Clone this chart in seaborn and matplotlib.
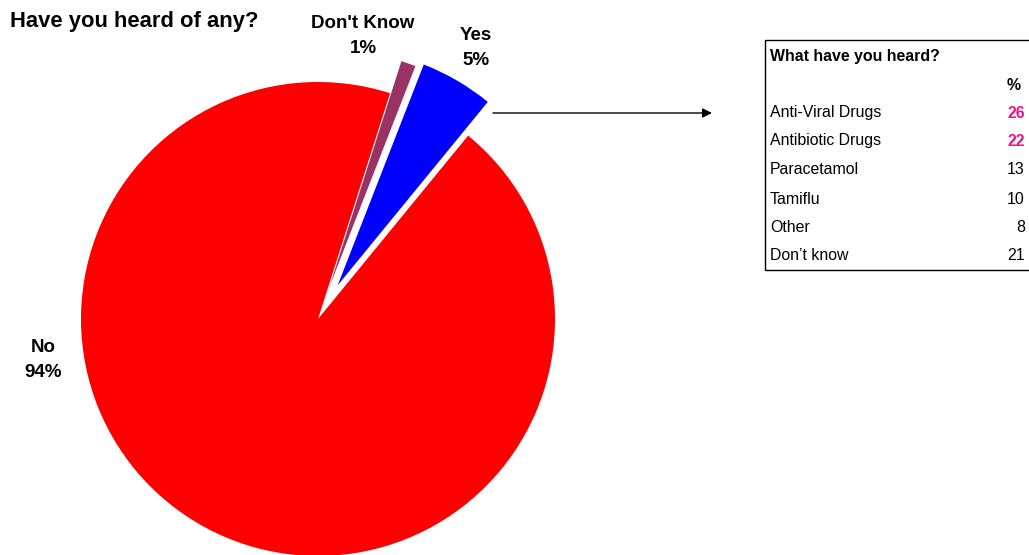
import matplotlib
matplotlib.use("Agg")
import matplotlib.pyplot as plt
from matplotlib.patches import Rectangle
import seaborn as sns

# Pie data (drawn in this order, counter-clockwise)
pie_labels = ["No", "Yes", "Don't Know"]
pie_values = [94, 5, 1]
pie_colors = ["#FF0000", "#0000FF", "#993366"]
# explode offsets in axis units (pixels here)
pie_explode = [0.0, 39.0, 34.0]

# Follow-up table
table_title = "What have you heard?"
table_items = ["Anti-Viral Drugs", "Antibiotic Drugs", "Paracetamol", "Tamiflu", "Other", "Don\u2019t know"]
table_values = [26, 22, 13, 10, 8, 21]
table_highlight = [True, True, False, False, False, False]

sns.set_theme(style="white")
plt.rcParams["font.family"] = ["Liberation Sans", "DejaVu Sans"]

W, H = 1029, 555
fig = plt.figure(figsize=(W / 100, H / 100), dpi=100)
ax = fig.add_axes([0, 0, 1, 1])
ax.set_xlim(0, W)
ax.set_ylim(0, H)
ax.set_aspect("equal")
ax.axis("off")


def Y(y):
    # convert top-down pixel position to axis coordinate
    return H - y


wedges, _ = ax.pie(pie_values, colors=pie_colors, explode=pie_explode,
                   startangle=72.3, counterclock=True, center=(318, Y(319)),
                   radius=237, frame=True,
                   wedgeprops=dict(linewidth=0))
ax.set_xlim(0, W)
ax.set_ylim(0, H)
ax.axis("off")

# Slice labels
lab_style = dict(fontsize=13.5, fontweight="bold", ha="center", va="center",
                 linespacing=1.55, color="#000000")
label_pos = {"No": (43, 360), "Yes": (476, 48), "Don't Know": (363, 36)}
for name, val in zip(pie_labels, pie_values):
    x, y = label_pos[name]
    ax.text(x, Y(y), f"{name}\n{val}%", **lab_style)

# Title
ax.text(10, Y(21), "Have you heard of any?", fontsize=15.8, fontweight="bold",
        ha="left", va="center", color="#000000")

# Arrow to the table
ax.annotate("", xy=(712, Y(113)), xytext=(493, Y(113)),
            arrowprops=dict(arrowstyle="-|>", color="black", lw=1.0,
                            mutation_scale=14, shrinkA=0, shrinkB=0))

# Table box
ax.add_patch(Rectangle((765, Y(270)), 280, 230, fill=False,
                       edgecolor="#000000", linewidth=1.0, clip_on=True))
ax.text(770, Y(56), table_title, fontsize=11.4, fontweight="bold",
        ha="left", va="center", color="#000000")
ax.text(1021, Y(85), "%", fontsize=11.4, fontweight="bold",
        ha="right", va="center", color="#000000")
row_y = [113, 141, 170, 199, 228, 256]
for yy, item, val, hi in zip(row_y, table_items, table_values, table_highlight):
    ax.text(770, Y(yy), item, fontsize=11.4, ha="left", va="center",
            color="#000000")
    ax.text(1025, Y(yy), str(val), fontsize=11.4, ha="right", va="center",
            color="#EE1289" if hi else "#000000",
            fontweight="bold" if hi else "normal")

fig.savefig("out.png", dpi=100, facecolor="white")
